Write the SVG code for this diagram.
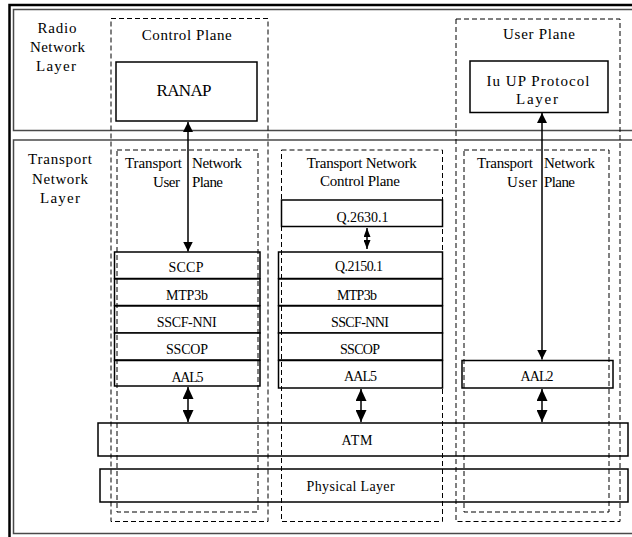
<svg xmlns="http://www.w3.org/2000/svg" width="632" height="537" viewBox="0 0 632 537" font-family="'Liberation Serif','DejaVu Serif',serif">
<style>
text{font-family:"Liberation Serif","DejaVu Serif",serif;fill:#000;text-anchor:middle}
.lbl{font-size:15px}
.stk{font-size:14px}
.frame{fill:none;stroke:#000;stroke-width:2.5}
.layer{fill:none;stroke:#4a4a4a;stroke-width:1.5}
.dash{fill:none;stroke:#000;stroke-width:1;stroke-dasharray:5 3}
.box{fill:#fff;stroke:#000;stroke-width:1.5}
.arr{fill:none;stroke:#000;stroke-width:1.5}
</style>
<defs>
<marker id="ah" viewBox="0 0 10 10" refX="10" refY="5" markerWidth="10" markerHeight="10" markerUnits="userSpaceOnUse" orient="auto-start-reverse"><path d="M0,0L10,5L0,10z"/></marker>
<marker id="ah2" viewBox="0 0 10 10" refX="10" refY="5" markerWidth="12" markerHeight="11" markerUnits="userSpaceOnUse" orient="auto-start-reverse" preserveAspectRatio="none"><path d="M0,0L10,5L0,10z"/></marker>
<marker id="ah3" viewBox="0 0 10 10" refX="10" refY="5" markerWidth="9" markerHeight="7" markerUnits="userSpaceOnUse" orient="auto-start-reverse" preserveAspectRatio="none"><path d="M0,0L10,5L0,10z"/></marker>
</defs>
<rect width="632" height="537" fill="#fff"/>
<rect class="frame" x="9.5" y="5" width="640" height="600"/>
<g id="radio-network-layer">
<rect class="layer" x="13.5" y="9.5" width="640" height="121"/>
<text class="lbl" x="57" y="33" textLength="39">Radio</text>
<text class="lbl" x="57.5" y="52" textLength="55">Network</text>
<text class="lbl" x="56" y="71" textLength="40">Layer</text>
</g>
<g id="transport-network-layer">
<rect class="layer" x="13.5" y="140" width="640" height="393.5"/>
<text class="lbl" x="60" y="164" textLength="64">Transport</text>
<text class="lbl" x="60" y="184" textLength="56">Network</text>
<text class="lbl" x="60" y="203" textLength="40">Layer</text>
</g>
<g id="ranap"><rect class="box" x="116" y="62" width="141" height="59"/><text x="184" y="96" style="font-size:17px" textLength="55">RANAP</text></g>
<g id="iuup"><rect class="box" x="470" y="61" width="138" height="51.5"/><text class="lbl" x="538" y="86" textLength="103">Iu UP Protocol</text><text class="lbl" x="537" y="104" textLength="42">Layer</text></g>
<g id="left-stack">
<g id="sccp"><rect class="box" x="114.5" y="252" width="145.5" height="26.5"/><text class="stk" x="186" y="271.5" textLength="35">SCCP</text></g>
<g id="mtp3b-l"><rect class="box" x="114.5" y="279" width="145.5" height="26.5"/><text class="stk" x="187" y="299.5" textLength="42">MTP3b</text></g>
<g id="sscf-l"><rect class="box" x="114.5" y="306" width="145.5" height="27"/><text class="stk" x="186.7" y="327" textLength="60">SSCF-NNI</text></g>
<g id="sscop-l"><rect class="box" x="114.5" y="333" width="145.5" height="27"/><text class="stk" x="187" y="354" textLength="42">SSCOP</text></g>
<g id="aal5-l"><rect class="box" x="114.5" y="360.5" width="145.5" height="25.5"/><text class="stk" x="187.5" y="381.5" textLength="32">AAL5</text></g>
</g>
<g id="mid-stack">
<g id="q2630"><rect class="box" x="281.5" y="200" width="161" height="26.5"/><text class="stk" x="362.5" y="222" textLength="52">Q.2630.1</text></g>
<g id="q2150"><rect class="box" x="278.5" y="252" width="164" height="26.5"/><text class="stk" x="359" y="271" textLength="48">Q.2150.1</text></g>
<g id="mtp3b-m"><rect class="box" x="278.5" y="279" width="164" height="26.5"/><text class="stk" x="357" y="299.5" textLength="40">MTP3b</text></g>
<g id="sscf-m"><rect class="box" x="278.5" y="306" width="164" height="27"/><text class="stk" x="360" y="326.5" textLength="58">SSCF-NNI</text></g>
<g id="sscop-m"><rect class="box" x="278.5" y="333" width="164" height="27"/><text class="stk" x="360" y="353.5" textLength="40">SSCOP</text></g>
<g id="aal5-m"><rect class="box" x="278.5" y="360.5" width="164" height="27.5"/><text class="stk" x="360.5" y="380.5" textLength="33">AAL5</text></g>
</g>
<g id="aal2"><rect class="box" x="462" y="360.5" width="151" height="27.5"/><text class="stk" x="537" y="380.5" textLength="33">AAL2</text></g>
<g id="atm"><rect class="box" x="98" y="423" width="530" height="33"/><text class="stk" x="357" y="445" textLength="31">ATM</text></g>
<g id="physical"><rect class="box" x="100" y="469" width="528" height="33"/><text class="stk" x="350.6" y="491" textLength="88">Physical Layer</text></g>
<g id="control-plane">
<rect class="dash" x="111" y="18.5" width="157" height="503"/>
<text class="lbl" x="186.7" y="40" textLength="90">Control Plane</text>
</g>
<g id="user-plane">
<rect class="dash" x="456" y="19" width="164" height="502.5"/>
<text class="lbl" x="539" y="38.5" textLength="72">User Plane</text>
</g>
<g id="tnup-left">
<rect class="dash" x="117" y="150" width="141" height="362"/>
<text class="lbl" x="153.5" y="168" textLength="57">Transport</text>
<text class="lbl" x="217" y="168" textLength="50">Network</text>
<text class="lbl" x="166.5" y="187" textLength="27">User</text>
<text class="lbl" x="207.5" y="187" textLength="31">Plane</text>
</g>
<g id="tncp">
<rect class="dash" x="281.5" y="150" width="161" height="371.5"/>
<text class="lbl" x="361.7" y="168" textLength="110">Transport Network</text>
<text class="lbl" x="360" y="186" textLength="80">Control Plane</text>
</g>
<g id="tnup-right">
<rect class="dash" x="464" y="150" width="145" height="362"/>
<text class="lbl" x="505" y="168" textLength="56">Transport</text>
<text class="lbl" x="569.5" y="168" textLength="51">Network</text>
<text class="lbl" x="522" y="187" textLength="30">User</text>
<text class="lbl" x="559.5" y="187" textLength="31">Plane</text>
</g>
<g id="connectors">
<line class="arr" x1="188" y1="122" x2="188" y2="251.5" marker-start="url(#ah)" marker-end="url(#ah)"/>
<line class="arr" x1="542" y1="113" x2="542" y2="359.5" marker-start="url(#ah)" marker-end="url(#ah)"/>
<line class="arr" x1="367" y1="228" x2="367" y2="249" marker-start="url(#ah3)" marker-end="url(#ah3)"/>
<line class="arr" x1="188" y1="387" x2="188" y2="422" marker-start="url(#ah2)" marker-end="url(#ah2)"/>
<line class="arr" x1="361" y1="389" x2="361" y2="422" marker-start="url(#ah2)" marker-end="url(#ah2)"/>
<line class="arr" x1="542" y1="389" x2="542" y2="422" marker-start="url(#ah2)" marker-end="url(#ah2)"/>
</g>
</svg>
